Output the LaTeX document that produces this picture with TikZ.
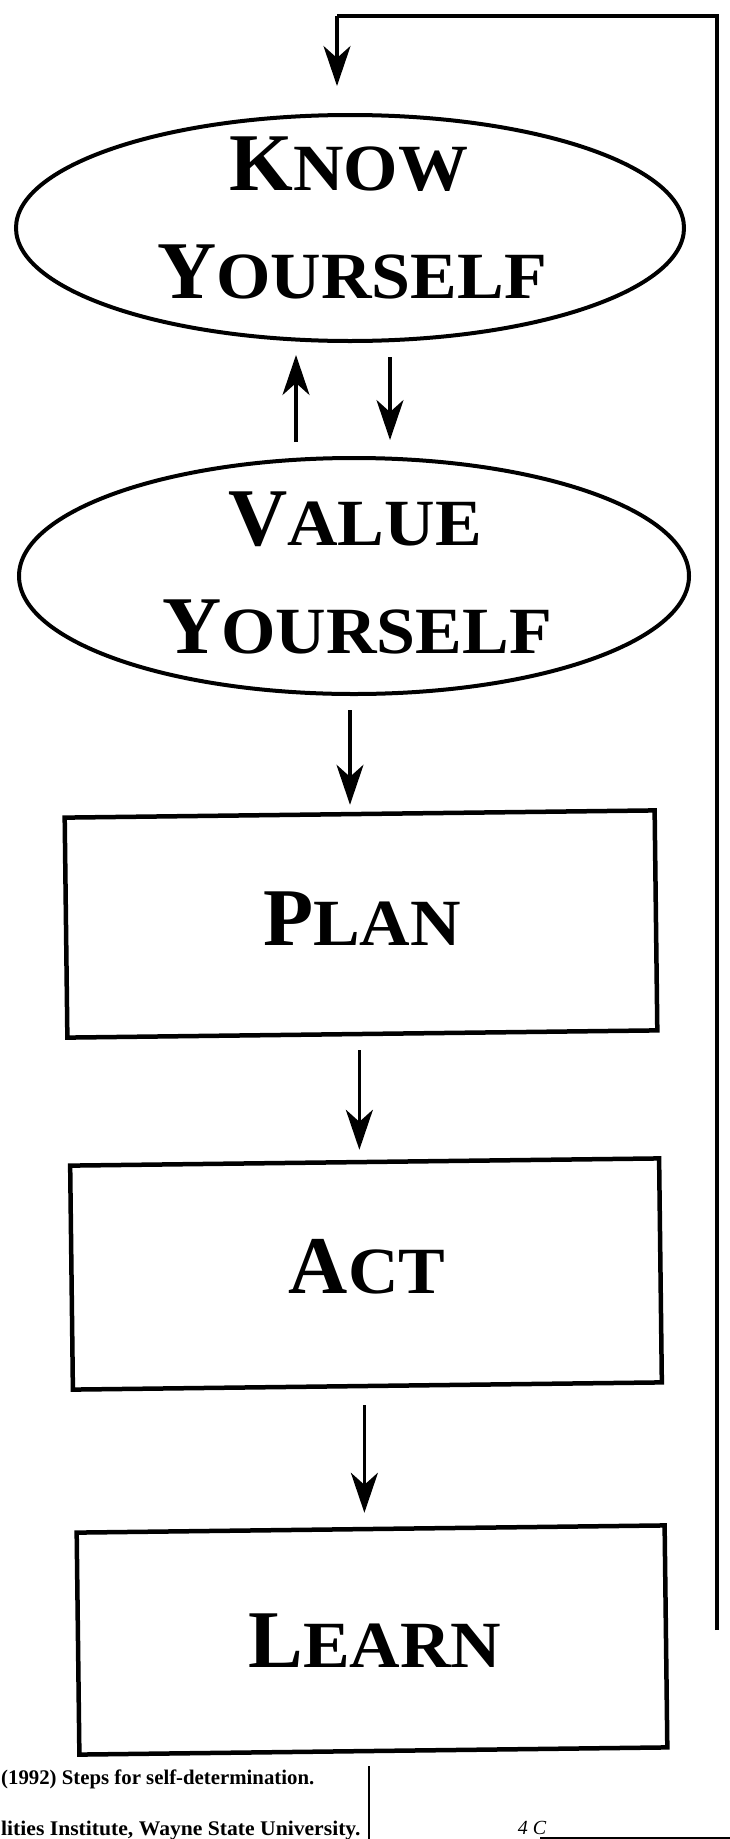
\documentclass[tikz,border=0pt]{standalone}
\usepackage{fontspec}
\setmainfont{Liberation Serif}
\usetikzlibrary{shapes.geometric,arrows.meta}
\newcommand{\SmC}[2]{{\fontsize{82}{82}\selectfont\bfseries #1}{\fontsize{66}{66}\selectfont\bfseries\scalebox{1.06}[1]{#2}}}
\begin{document}
\begin{tikzpicture}[x=1pt,y=-1pt,
  ell/.style={draw, ellipse, line width=4pt, inner sep=0pt},
  boxnode/.style={draw, rectangle, line width=4.5pt, inner sep=0pt, rotate=0.7},
  lbl/.style={anchor=base, inner sep=0pt},
  arr/.style={line width=3.4pt, -{Stealth[length=40pt,width=27pt,inset=12pt]}},
  fline/.style={line width=3.4pt},
  cite/.style={anchor=base west, inner sep=0pt, font=\fontsize{20.8}{20}\selectfont\bfseries}]
\useasboundingbox[fill=white] (0,0) rectangle (730,1839);

% shapes
\node[ell, minimum width=668pt, minimum height=226pt] (know) at (350,228) {};
\node[ell, minimum width=670pt, minimum height=236pt] (value) at (354,576) {};
\node[boxnode, minimum width=590pt, minimum height=220pt] (plan) at (361,924) {};
\node[boxnode, minimum width=589pt, minimum height=224pt] (act) at (366,1274) {};
\node[boxnode, minimum width=588pt, minimum height=222pt] (learn) at (372,1640) {};

% labels
\node[lbl] (knowA) at (349,190) {\SmC{K}{NOW}};
\node[lbl] (knowB) at (352,298) {\SmC{Y}{OURSELF}};
\node[lbl] (valA) at (355,545) {\SmC{V}{ALUE}};
\node[lbl] (valB) at (357,653) {\SmC{Y}{OURSELF}};
\node[lbl] (planT) at (362,945) {\SmC{P}{LAN}};
\node[lbl] (actT) at (367,1293) {\SmC{A}{CT}};
\node[lbl] (learnT) at (375,1667) {\SmC{L}{EARN}};

% arrows between shapes
\draw[arr, shorten <=14pt, shorten >=12pt] ([xshift=-58pt]value.north) -- ([xshift=-58pt]value.north |- know.south);
\draw[arr, shorten <=14pt, shorten >=16pt] ([xshift=40pt]know.south) -- ([xshift=40pt]know.south |- value.north);
\draw[arr, shorten <=14pt, shorten >=7pt] ([xshift=-4pt]value.south) -- ([xshift=-4pt]value.south |- plan.north);
\draw[arr, shorten <=14pt, shorten >=10pt] ([xshift=-3pt]plan.south) -- ([xshift=-3pt]plan.south |- act.north);
\draw[arr, shorten <=17pt, shorten >=14pt] ([xshift=-3pt]act.south) -- ([xshift=-3pt]act.south |- learn.north);

% feedback loop
\coordinate (fbstart) at (717,1630);
\coordinate (fbtop) at (337,16);
\draw[fline] (fbstart) |- (fbtop);
\draw[arr, shorten >=27pt] (fbtop) -- (fbtop |- know.north);

% citation fragments
\node[cite] (cite1) at (1,1784) {(1992) Steps for self-determination.};
\node[cite, xscale=1.04] (cite2) at (1,1835) {lities Institute, Wayne State University.};
\coordinate (vtop) at (369,1766);
\coordinate (vbot) at (369,1839);
\draw[line width=2.8pt] (vtop) -- (vbot);
\node[anchor=base, inner sep=0pt, font=\fontsize{20}{20}\selectfont\itshape] (hand) at (532,1834) {4 C};
\coordinate (ulA) at (540,1838);
\coordinate (ulB) at (730,1838);
\draw[line width=1.8pt] (ulA) -- (ulB);
\end{tikzpicture}
\end{document}
